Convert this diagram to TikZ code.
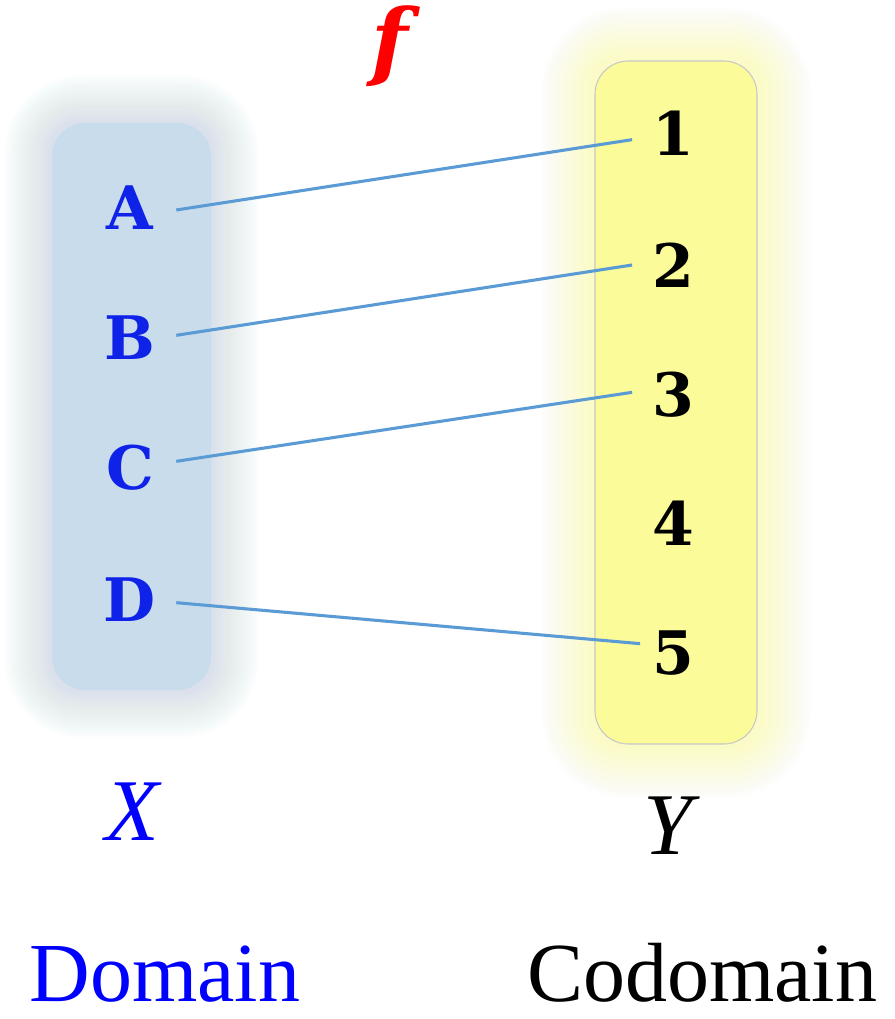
\documentclass[tikz,border=0pt]{standalone}
\usepackage{fontspec}
\setmainfont{Liberation Serif}
\newfontfamily\slab{DejaVu Serif}
\definecolor{domfill}{HTML}{C9DCEC}
\definecolor{codfill}{HTML}{FBFB99}
\definecolor{letblue}{HTML}{0E22E8}
\definecolor{linkblue}{HTML}{5B9BD5}
\definecolor{boxgray}{HTML}{C8C8C8}
\tikzset{
  elem/.style={font=\slab\bfseries\fontsize{45}{50}\selectfont, inner sep=0pt},
  dom/.style={elem, text=letblue, minimum width=69},
  cod/.style={elem, text=black, minimum width=61},
  link/.style={draw=linkblue, line width=2.3pt},
  setname/.style={font=\itshape\fontsize{66}{70}\selectfont, inner sep=0pt},
  caption/.style={font=\fontsize{63}{66}\selectfont, inner sep=0pt}
}
\begin{document}
\begin{tikzpicture}[x=0.75pt,y=-0.75pt]
\useasboundingbox (0,0) rectangle (894,1019);
\fill[white] (0,0) rectangle (894,1019);
% glows
\foreach \g in {1,...,30}{
  \pgfmathsetmacro{\o}{1.6*\g}
  \pgfmathsetmacro{\r}{20+0.8*\o}
  \fill[domfill, opacity=0.025, rounded corners=\r] ({52-\o},{123-\o}) rectangle ({211+\o},{690+\o});
  \pgfmathsetmacro{\p}{1.8*\g}
  \pgfmathsetmacro{\s}{20+0.8*\p}
  \fill[codfill, opacity=0.02, rounded corners=\s] ({595-\p},{61-\p}) rectangle ({757+\p},{744+\p});
}
\fill[domfill, rounded corners=25] (52,123) rectangle (211,690);
\filldraw[fill=codfill, draw=boxgray, line width=0.8pt, rounded corners=25] (595,61) rectangle (757,744);
% function name
\node[font=\slab\bfseries\itshape\fontsize{64}{66}\selectfont, text=red, inner sep=0pt] (f) at (390,46) {f};
% domain elements
\node[dom] (a) at (130,208) {A};
\node[dom] (b) at (130,338) {B};
\node[dom] (c) at (130,468) {C};
\node[dom] (d) at (130,600) {D};
% codomain elements
\node[cod] (n1) at (673,133) {1};
\node[cod] (n2) at (673,265) {2};
\node[cod] (n3) at (673,395) {3};
\node[cod] (n4) at (673,523) {4};
\node[cod] (n5) at (673,653) {5};
% links
\draw[link] ([yshift=-1.5]a.east) -- ([yshift=-5]n1.west);
\draw[link] ([yshift=2]b.east) -- ([yshift=0]n2.west);
\draw[link] ([yshift=5]c.east) -- ([yshift=2]n3.west);
\draw[link] ([yshift=-2]d.east) -- ([xshift=6,yshift=7]n5.west);
% set names
\node[setname, text=blue] (X) at (132,812) {X};
\node[setname, text=black] (Y) at (668,826) {Y};
\node[caption, text=blue, anchor=base] (dm) at (165,1001) {Domain};
\node[caption, text=black, anchor=base] (cd) at (702,1001) {Codomain};
\end{tikzpicture}
\end{document}
